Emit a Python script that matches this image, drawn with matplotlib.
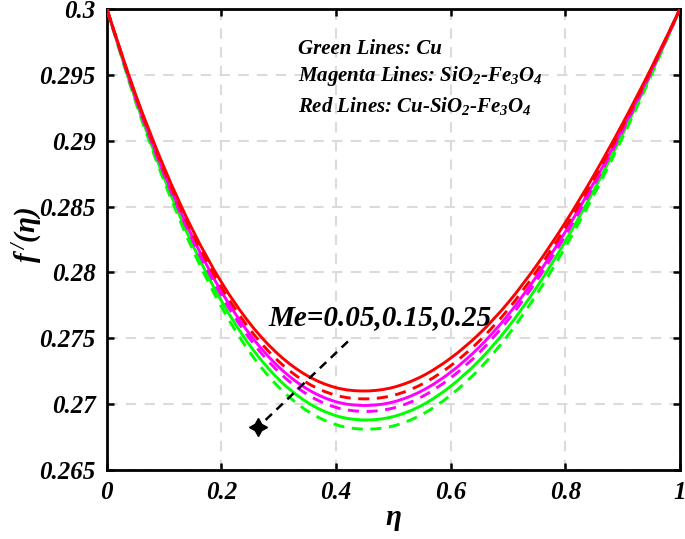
import numpy as np
import matplotlib
matplotlib.use("Agg")
import matplotlib.pyplot as plt
from matplotlib.path import Path
from matplotlib.patches import PathPatch

plt.rcParams['font.family'] = 'Liberation Serif'
plt.rcParams['font.weight'] = 'bold'
plt.rcParams['font.style'] = 'italic'
plt.rcParams['mathtext.fontset'] = 'custom'
plt.rcParams['mathtext.rm'] = 'Liberation Serif:bold:italic'
plt.rcParams['mathtext.it'] = 'Liberation Serif:bold:italic'
plt.rcParams['mathtext.bf'] = 'Liberation Serif:bold:italic'

eta = [0.0, 0.05, 0.10, 0.15, 0.20, 0.25, 0.30, 0.35, 0.40, 0.45, 0.50,
       0.55, 0.60, 0.65, 0.70, 0.75, 0.80, 0.85, 0.90, 0.95, 1.0]

red_solid = [0.3, 0.29353, 0.28796, 0.28320, 0.27925, 0.27610, 0.27375, 0.27215, 0.27125, 0.27100, 0.27128,
             0.27212, 0.27350, 0.27535, 0.27770, 0.28055, 0.28380, 0.28740, 0.29132, 0.29553, 0.3]
red_dashed = [0.3, 0.29342, 0.28774, 0.28289, 0.27886, 0.27565, 0.27324, 0.27160, 0.27067, 0.27040, 0.27067,
              0.27152, 0.27292, 0.27480, 0.27719, 0.28010, 0.28341, 0.28709, 0.29110, 0.29542, 0.3]
mag_solid = [0.3, 0.29332, 0.28756, 0.28263, 0.27854, 0.27527, 0.27282, 0.27114, 0.27018, 0.26990, 0.27017,
             0.27102, 0.27243, 0.27434, 0.27677, 0.27972, 0.28309, 0.28683, 0.29092, 0.29532, 0.3]
mag_dashed = [0.3, 0.29323, 0.28740, 0.28240, 0.27825, 0.27493, 0.27244, 0.27073, 0.26975, 0.26945, 0.26971,
              0.27057, 0.27200, 0.27393, 0.27639, 0.27938, 0.28280, 0.28660, 0.29076, 0.29523, 0.3]
green_solid = [0.3, 0.29311, 0.28716, 0.28207, 0.27783, 0.27443, 0.27188, 0.27013, 0.26912, 0.26880, 0.26906,
               0.26992, 0.27137, 0.27333, 0.27583, 0.27888, 0.28238, 0.28627, 0.29052, 0.29511, 0.3]
green_dashed = [0.3, 0.29297, 0.28691, 0.28171, 0.27738, 0.27390, 0.27129, 0.26948, 0.26844, 0.26810, 0.26835,
                0.26922, 0.27069, 0.27268, 0.27524, 0.27835, 0.28193, 0.28591, 0.29027, 0.29497, 0.3]

xticks = [0, 0.2, 0.4, 0.6, 0.8, 1]
xticklabels = ['0', '0.2', '0.4', '0.6', '0.8', '1']
yticks = [0.265, 0.27, 0.275, 0.28, 0.285, 0.29, 0.295, 0.3]
yticklabels = ['0.265', '0.27', '0.275', '0.28', '0.285', '0.29', '0.295', '0.3']

arrow_start = (0.4206, 0.27476)
arrow_end = (0.2635, 0.26824)


def smooth_path(x, y):
    """Bezier path passing through the read points (Catmull-Rom tangents)."""
    x = np.asarray(x, float)
    y = np.asarray(y, float)
    n = len(x)
    verts = [(x[0], y[0])]
    codes = [Path.MOVETO]
    for i in range(n - 1):
        x0, y0 = (x[i - 1], y[i - 1]) if i > 0 else (x[i], y[i])
        x3, y3 = (x[i + 2], y[i + 2]) if i + 2 < n else (x[i + 1], y[i + 1])
        c1 = (x[i] + (x[i + 1] - x0) / 6.0, y[i] + (y[i + 1] - y0) / 6.0)
        c2 = (x[i + 1] - (x3 - x[i]) / 6.0, y[i + 1] - (y3 - y[i]) / 6.0)
        verts += [c1, c2, (x[i + 1], y[i + 1])]
        codes += [Path.CURVE4, Path.CURVE4, Path.CURVE4]
    return Path(verts, codes)


fig = plt.figure(figsize=(6.85, 5.39), dpi=100)
ax = fig.add_axes([0.156, 0.128, 0.8367, 0.8553])

dash = (0, (3.8, 2.6))
lw = 2.1
series = [
    (green_solid, (0, 1, 0), '-'),
    (green_dashed, (0, 1, 0), dash),
    (mag_solid, (1, 0, 1), '-'),
    (mag_dashed, (1, 0, 1), dash),
    (red_solid, (1, 0, 0), '-'),
    (red_dashed, (1, 0, 0), dash),
]
for vals, col, ls in series:
    ax.add_patch(PathPatch(smooth_path(eta, vals), facecolor='none', edgecolor=col,
                           lw=lw, ls=ls, zorder=3, capstyle='butt'))

ax.plot([arrow_start[0], arrow_end[0]], [arrow_start[1], arrow_end[1]],
        color='black', lw=1.8, ls=(0, (3.5, 2.5)), zorder=4)
ax.plot([arrow_end[0]], [arrow_end[1]], marker=(4, 1, 0), markersize=13,
        color='black', zorder=5)

ax.set_xlim(0, 1)
ax.set_ylim(0.265, 0.3)
ax.set_xticks(xticks)
ax.set_xticklabels(xticklabels)
ax.set_yticks(yticks)
ax.set_yticklabels(yticklabels)
ax.tick_params(direction='in', length=5, width=1.8, top=True, right=True,
               labelsize=18, pad=8)
for lab in ax.get_xticklabels() + ax.get_yticklabels():
    lab.set_fontweight('bold')
    lab.set_fontstyle('italic')
for s in ax.spines.values():
    s.set_linewidth(2.0)
ax.grid(True, color=(0.86, 0.86, 0.86), ls=(0, (5, 4)), lw=1.5, zorder=0)

ax.set_xlabel(r'$\eta$', fontsize=21, labelpad=2)
fig.text(28 / 685, 1 - 235 / 539, r'$f^{\,/}(\eta)$', fontsize=21, rotation=90,
         ha='center', va='center')

ax.text(0.3333, 0.29697, 'Green Lines: Cu', fontsize=15, va='center', ha='left')
ax.text(0.3333, 0.29492, r'Magenta Lines: SiO$_2$-Fe$_3$O$_4$', fontsize=15, va='center', ha='left')
ax.text(0.3333, 0.29265, r'Red Lines: Cu-SiO$_2$-Fe$_3$O$_4$', fontsize=15, va='center', ha='left')
ax.text(0.4764, 0.27658, 'Me=0.05,0.15,0.25', fontsize=21, va='center', ha='center')

fig.savefig('out.png', dpi=100)
